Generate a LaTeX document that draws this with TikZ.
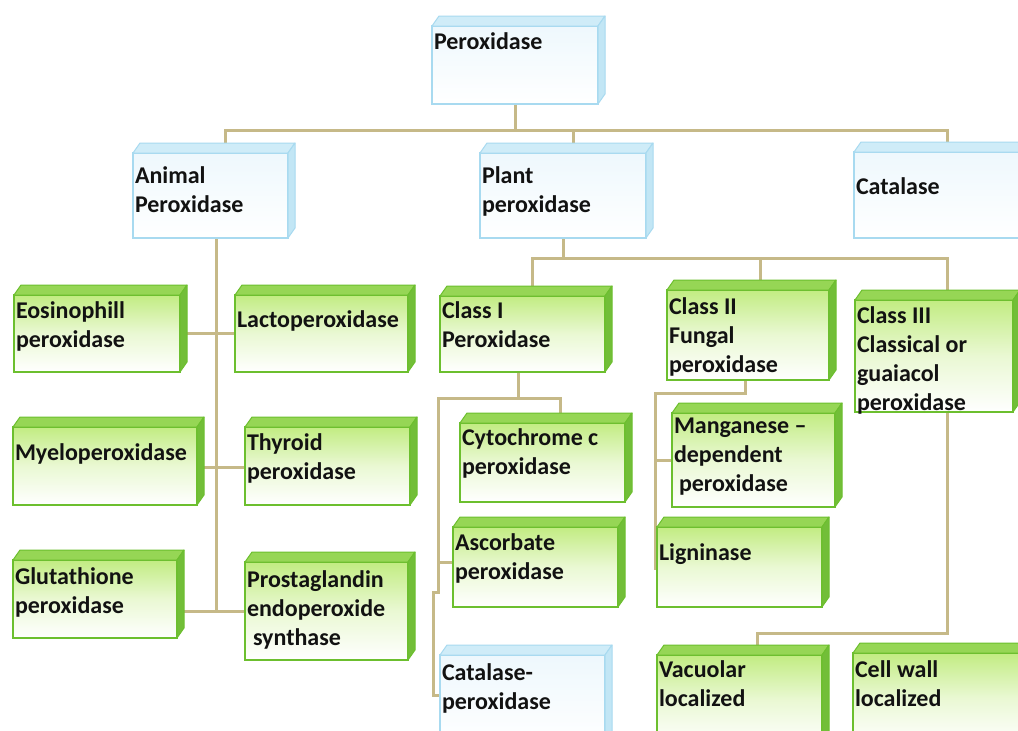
\documentclass[tikz,border=0pt]{standalone}
\usepackage{fontspec}
\setmainfont{Carlito}

\definecolor{linkc}{HTML}{C6B988}
\definecolor{gedge}{HTML}{6CBF2E}
\definecolor{gtop}{HTML}{96D655}
\definecolor{gside}{HTML}{72BE38}
\definecolor{gface}{HTML}{C2EC82}
\definecolor{bedge}{HTML}{A8DAF0}
\definecolor{btop}{HTML}{CFECF8}
\definecolor{bside}{HTML}{C2E6F5}
\definecolor{bface}{HTML}{EEF8FD}
\definecolor{ink}{HTML}{121212}

\tikzset{
  boxbase/.style={anchor=north west, inner sep=0pt, outer sep=0pt, line width=1.2pt,
    text=ink, font=\bfseries\fontsize{24}{29}\selectfont},
  gbox/.style={boxbase, draw=gedge, top color=gface, bottom color=white, middle color=gface!35!white},
  bbox/.style={boxbase, draw=bedge, top color=bface, bottom color=white},
  link/.style={draw=linkc, line width=3pt},
}

% front face of a cuboid with its text: style, name, x, y, width, height, first baseline, text
\newcommand\boxcell[8]{%
  \node[#1] (#2) at (#3,#4)
    {\parbox[b][#6pt][t]{#5pt}{\raggedright\leftskip=2pt\rule{0pt}{#7pt}#8}};}
% top and right faces of a cuboid: name, top colour, side colour, edge colour
\newcommand\boxfaces[4]{%
  \filldraw[fill=#2, draw=#4, line width=1pt, line join=round]
    (#1.north west) -- ([shift={(7,-10)}]#1.north west) -- ([shift={(7,-10)}]#1.north east)
    -- (#1.north east) -- cycle;
  \filldraw[fill=#3, draw=#4, line width=1pt, line join=round]
    (#1.north east) -- ([shift={(7,-10)}]#1.north east) -- ([shift={(7,-10)}]#1.south east)
    -- (#1.south east) -- cycle;}
\newcommand\gcell[7]{\boxcell{gbox}{#1}{#2}{#3}{#4}{#5}{#6}{#7}\boxfaces{#1}{gtop}{gside}{gedge}}
\newcommand\bcell[7]{\boxcell{bbox}{#1}{#2}{#3}{#4}{#5}{#6}{#7}\boxfaces{#1}{btop}{bside}{bedge}}

\begin{document}
\begin{tikzpicture}[x=1pt, y=-1pt]
\useasboundingbox[fill=white] (0,0) rectangle (1018,731);

% ---------- connectors (drawn under the boxes) ----------
\coordinate (busL) at (225,130);
\coordinate (busR) at (947,130);
\draw[link] (515,104) -- (515,130);
\draw[link] (225,153) -- (busL) -- (busR) -- (947,152);
\draw[link] (573,130) -- (573,153);

% animal branch
\draw[link] (216,238) -- (216,611);
\draw[link] (180,333) -- (235,333);
\draw[link] (197,467) -- (245,467);
\draw[link] (177,611) -- (245,611);

% plant branch
\draw[link] (563,238) -- (563,258);
\draw[link] (532,296) -- (532,258) -- (947,258) -- (947,300);
\draw[link] (760,258) -- (760,290);

% class I
\draw[link] (518,372) -- (518,398);
\draw[link] (560,423) -- (560,398) -- (438,398) -- (438,592) -- (433,592) -- (433,695) -- (440,695);
\draw[link] (438,562) -- (453,562);

% class II
\draw[link] (745,380) -- (745,393) -- (655,393) -- (655,570);
\draw[link] (655,460) -- (672,460);

% class III
\draw[link] (947,412) -- (947,633) -- (757,633) -- (757,655);

% ---------- boxes ----------
\bcell{per}{432}{26}{166}{78}{23}{Peroxidase}
\bcell{anim}{133}{153}{155}{85}{30}{Animal\\Peroxidase}
\bcell{plant}{480}{153}{166}{85}{30}{Plant\\peroxidase}
\bcell{cat}{854}{152}{175}{86}{42}{Catalase}

\gcell{eos}{14}{295}{166}{77}{23}{Eosinophill\\peroxidase}
\gcell{lacto}{235}{295}{173}{77}{32}{Lactoperoxidase}
\gcell{myelo}{13}{427}{184}{78}{33}{Myeloperoxidase}
\gcell{thyr}{245}{427}{165}{78}{23}{Thyroid\\peroxidase}
\gcell{glut}{13}{560}{164}{78}{24}{Glutathione\\peroxidase}
\gcell{prost}{245}{562}{163}{98}{25}{Prostaglandin\\endoperoxide\\\hspace*{6pt}synthase}

\gcell{c1}{440}{296}{165}{76}{22}{Class I\\Peroxidase}
\gcell{c2}{667}{290}{162}{90}{24}{Class II\\Fungal\\peroxidase}
\gcell{c3}{855}{300}{158}{112}{23}{Class III\\Classical or\\guaiacol\\peroxidase}

\gcell{cyt}{460}{423}{165}{79}{22}{Cytochrome c\\peroxidase}
\gcell{asc}{453}{527}{165}{80}{23}{Ascorbate\\peroxidase}
\bcell{catp}{440}{655}{165}{90}{25}{Catalase-\\peroxidase}

\gcell{mang}{672}{413}{163}{94}{20}{Manganese --\\dependent\\\hspace*{5pt}peroxidase}
\gcell{lign}{657}{527}{165}{80}{33}{Ligninase}

\gcell{vac}{657}{655}{165}{90}{22}{Vacuolar\\localized}
\gcell{cell}{853}{653}{170}{90}{24}{Cell wall\\localized}
\end{tikzpicture}
\end{document}
